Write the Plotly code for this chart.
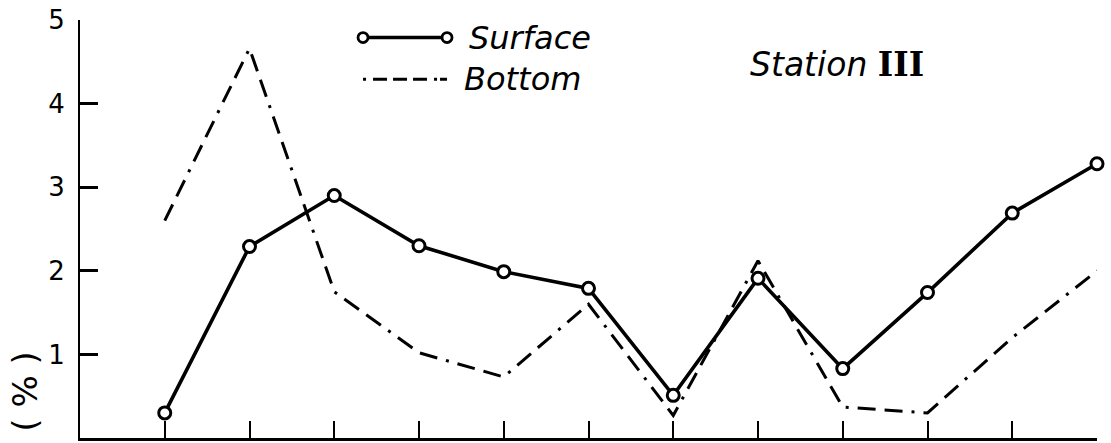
import plotly.graph_objects as go

# Sampling positions along the transect (evenly spaced ticks, no labels)
positions = [1, 2, 3, 4, 5, 6, 7, 8, 9, 10, 11, 12]

# Percentages at the surface and at the bottom
surface = [0.30, 2.29, 2.90, 2.30, 1.99, 1.79, 0.51, 1.91, 0.83, 1.74, 2.69, 3.28]
bottom = [2.60, 4.66, 1.75, 1.02, 0.73, 1.60, 0.27, 2.12, 0.37, 0.30, 1.20, 2.00]

y_ticks = [1, 2, 3, 4, 5]
y_tick_text = ["1", "2", "3", "4", "5"]

station_name = "Station"
station_number = "III"
axis_title = "( % )"

FONT = "DejaVu Sans"
DASHDOT = "18px,9px,18px,9px,3px,9px"

fig = go.Figure()

fig.add_trace(go.Scatter(
    x=positions, y=bottom, mode="lines", name="Bottom",
    line=dict(color="black", width=3, dash=DASHDOT),
    showlegend=False, cliponaxis=False,
))
fig.add_trace(go.Scatter(
    x=positions, y=surface, mode="lines+markers", name="Surface",
    line=dict(color="black", width=3.6),
    marker=dict(symbol="circle", size=12, color="white",
                line=dict(color="black", width=3)),
    showlegend=False, cliponaxis=False,
))

# Hand-drawn legend: sample line with end markers, then italic label
leg_x0, leg_x1 = 0.2783, 0.3609
leg_y_surface, leg_y_bottom = 0.958, 0.858
fig.add_shape(type="line", xref="paper", yref="paper",
              x0=leg_x0, x1=leg_x1, y0=leg_y_surface, y1=leg_y_surface,
              line=dict(color="black", width=3.4))
for xe in (leg_x0, leg_x1):
    fig.add_shape(type="circle", xref="paper", yref="paper",
                  xsizemode="pixel", ysizemode="pixel",
                  xanchor=xe, yanchor=leg_y_surface,
                  x0=-5, x1=5, y0=-5, y1=5,
                  fillcolor="white", line=dict(color="black", width=2.8))
fig.add_shape(type="line", xref="paper", yref="paper",
              x0=leg_x0, x1=0.3638, y0=leg_y_bottom, y1=leg_y_bottom,
              line=dict(color="black", width=3,
                        dash="3px,7px,14px,6px,14px,6px,14px,7px,3px"))

fig.add_annotation(xref="paper", yref="paper", x=0.3805, y=leg_y_surface,
                   xanchor="left", yanchor="middle", showarrow=False,
                   text="<i>Surface</i>", font=dict(family=FONT, size=32, color="black"))
fig.add_annotation(xref="paper", yref="paper", x=0.3756, y=leg_y_bottom,
                   xanchor="left", yanchor="middle", showarrow=False,
                   text="<i>Bottom</i>", font=dict(family=FONT, size=32, color="black"))
fig.add_annotation(xref="paper", yref="paper", x=0.657, y=0.893,
                   xanchor="left", yanchor="middle", showarrow=False,
                   text="<i>" + station_name + "</i> "
                        + "<span style=\"font-family:'DejaVu Serif';font-weight:bold;font-style:normal\">"
                        + station_number + "</span>",
                   font=dict(family=FONT, size=33, color="black"))

# Rotated unit label low on the left side
fig.add_annotation(xref="paper", yref="paper", x=-0.054, y=0.111,
                   xanchor="center", yanchor="middle", showarrow=False,
                   textangle=-90, text=axis_title,
                   font=dict(family=FONT, size=34, color="black"))

fig.update_layout(
    width=1111, height=443,
    margin=dict(l=80, r=14, t=16, b=5),
    paper_bgcolor="white", plot_bgcolor="white",
    font=dict(family=FONT, color="black"),
    showlegend=False,
)
fig.update_xaxes(
    range=[0, 12], tickvals=positions, ticktext=[""] * len(positions),
    ticks="inside", ticklen=17, tickwidth=2, tickcolor="black",
    showline=True, linecolor="black", linewidth=3,
    showgrid=False, zeroline=False, fixedrange=True,
)
fig.update_yaxes(
    range=[0, 5], tickvals=y_ticks, ticktext=y_tick_text,
    ticks="inside", ticklen=18, tickwidth=2.6, tickcolor="black",
    showline=True, linecolor="black", linewidth=1.8,
    showgrid=False, zeroline=False, fixedrange=True,
    tickfont=dict(family=FONT, size=26, color="black"),
    ticklabelstandoff=8,
)

fig.write_html("out.html")
